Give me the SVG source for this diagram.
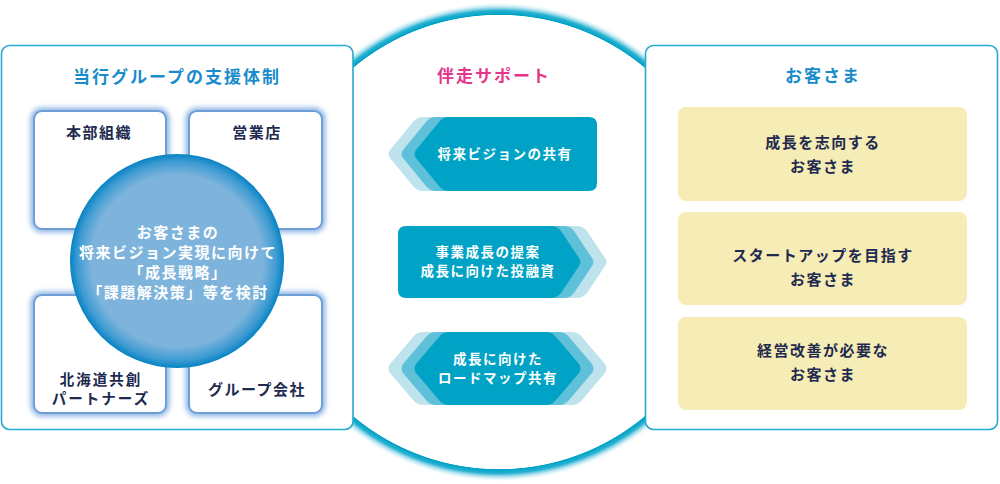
<svg xmlns="http://www.w3.org/2000/svg" width="1000" height="484" viewBox="0 0 1000 484">
<defs>
<radialGradient id="ring" gradientUnits="userSpaceOnUse" cx="499" cy="242" r="240">
<stop offset="0" stop-color="#ffffff"/>
<stop offset="0.945" stop-color="#ffffff"/>
<stop offset="0.948" stop-color="#00a2c6"/>
<stop offset="0.965" stop-color="#2ab2d2"/>
<stop offset="1" stop-color="#ffffff" stop-opacity="0"/>
</radialGradient>
<radialGradient id="ball" cx="0.5" cy="0.5" r="0.5">
<stop offset="0" stop-color="#7eb4dc"/>
<stop offset="0.8" stop-color="#7eb4dc"/>
<stop offset="0.93" stop-color="#3d9bd2"/>
<stop offset="1" stop-color="#0683c4"/>
</radialGradient>
<filter id="blur" x="-20%" y="-20%" width="140%" height="140%">
<feGaussianBlur stdDeviation="2.5"/>
</filter>
<style>
.panel{fill:#ffffff;stroke:#27aacd;stroke-width:1.6}
.glow{fill:none;stroke:#8fb6e4;stroke-width:7;filter:url(#blur)}
.sub{fill:#ffffff;stroke:#6f9fd8;stroke-width:2}
.t{font-family:"Noto Sans CJK JP","Noto Sans",sans-serif;font-weight:bold;text-anchor:middle}
.title{font-size:17px;letter-spacing:2px;fill:#1a8bcb}
.pink{fill:#e5358a}
.lbl{font-size:15px;letter-spacing:1.5px;fill:#1e2a4f}
.sm{font-size:14.5px;letter-spacing:2px}
.wh{font-size:15px;letter-spacing:1.5px;fill:#ffffff}
.aw{font-size:13.5px;letter-spacing:1.5px;fill:#ffffff}
.d{fill:#00a3c5}
.m{fill:#5ec0d9}
.l{fill:#bfe3ec}
.y{fill:#f6ecb5}
</style>
</defs>

<g id="support-ring">
<circle cx="499" cy="242" r="240" fill="url(#ring)"/>
</g>

<g id="group-panel">
<rect class="panel" x="1.5" y="45.5" width="351.5" height="384" rx="8"/>
<text class="t title" x="177" y="83">当行グループの支援体制</text>
</g>

<g id="honbu">
<rect class="glow" x="34" y="111" width="132" height="118" rx="8"/>
<rect class="sub" x="34" y="111" width="132" height="118" rx="8"/>
<text class="t lbl" x="99" y="138">本部組織</text>
</g>
<g id="eigyoten">
<rect class="glow" x="189" y="111" width="133" height="118" rx="8"/>
<rect class="sub" x="189" y="111" width="133" height="118" rx="8"/>
<text class="t lbl" x="257" y="138">営業店</text>
</g>
<g id="partners">
<rect class="glow" x="34" y="295" width="132" height="118" rx="8"/>
<rect class="sub" x="34" y="295" width="132" height="118" rx="8"/>
<text class="t lbl sm" x="101" y="385">北海道共創</text>
<text class="t lbl sm" x="101" y="404">パートナーズ</text>
</g>
<g id="group-companies">
<rect class="glow" x="189" y="295" width="133" height="118" rx="8"/>
<rect class="sub" x="189" y="295" width="133" height="118" rx="8"/>
<text class="t lbl" x="257" y="395">グループ会社</text>
</g>

<g id="center-circle">
<circle cx="177" cy="261" r="107" fill="url(#ball)"/>
<text class="t wh" x="178" y="238">お客さまの</text>
<text class="t wh" x="178" y="258">将来ビジョン実現に向けて</text>
<text class="t wh" x="178" y="278">「成長戦略」</text>
<text class="t wh" x="178" y="298">「課題解決策」等を検討</text>
</g>

<g id="support-title">
<text class="t title pink" x="494" y="82">伴走サポート</text>
</g>

<g id="vision">
<path class="l" transform="translate(-26,0)" d="M 449 117 H 589 Q 597 117 597 125 V 183 Q 597 191 589 191 H 449 Q 443 191 439 186 L 416 158 Q 413 154 416 150 L 439 122 Q 443 117 449 117 Z"/>
<path class="m" transform="translate(-13,0)" d="M 449 117 H 589 Q 597 117 597 125 V 183 Q 597 191 589 191 H 449 Q 443 191 439 186 L 416 158 Q 413 154 416 150 L 439 122 Q 443 117 449 117 Z"/>
<path class="d" d="M 449 117 H 589 Q 597 117 597 125 V 183 Q 597 191 589 191 H 449 Q 443 191 439 186 L 416 158 Q 413 154 416 150 L 439 122 Q 443 117 449 117 Z"/>
<text class="t aw" x="505" y="159">将来ビジョンの共有</text>
</g>

<g id="proposal">
<path class="l" transform="translate(26,0)" d="M 406 226 H 551 Q 557 226 561 231 L 579 258 Q 582 262 579 266 L 561 293 Q 557 298 551 298 H 406 Q 398 298 398 290 V 234 Q 398 226 406 226 Z"/>
<path class="m" transform="translate(13,0)" d="M 406 226 H 551 Q 557 226 561 231 L 579 258 Q 582 262 579 266 L 561 293 Q 557 298 551 298 H 406 Q 398 298 398 290 V 234 Q 398 226 406 226 Z"/>
<path class="d" d="M 406 226 H 551 Q 557 226 561 231 L 579 258 Q 582 262 579 266 L 561 293 Q 557 298 551 298 H 406 Q 398 298 398 290 V 234 Q 398 226 406 226 Z"/>
<text class="t aw" x="488" y="257">事業成長の提案</text>
<text class="t aw" x="488" y="276">成長に向けた投融資</text>
</g>

<g id="roadmap">
<path class="l" d="M 423 332 H 572 Q 578 332 582 337 L 605 364 Q 608 368.5 605 373 L 582 400 Q 578 405 572 405 H 423 Q 417 405 413 400 L 390 373 Q 387 368.5 390 364 L 413 337 Q 417 332 423 332 Z"/>
<path class="m" d="M 436 332 H 559 Q 565 332 569 337 L 592 364 Q 595 368.5 592 373 L 569 400 Q 565 405 559 405 H 436 Q 430 405 426 400 L 403 373 Q 400 368.5 403 364 L 426 337 Q 430 332 436 332 Z"/>
<path class="d" d="M 449 332 H 546 Q 552 332 556 337 L 579 364 Q 582 368.5 579 373 L 556 400 Q 552 405 546 405 H 449 Q 443 405 439 400 L 416 373 Q 413 368.5 416 364 L 439 337 Q 443 332 449 332 Z"/>
<text class="t aw" x="498" y="364">成長に向けた</text>
<text class="t aw" x="498" y="383">ロードマップ共有</text>
</g>

<g id="customer-panel">
<rect class="panel" x="645.5" y="45.5" width="352" height="384" rx="8"/>
<text class="t title" x="823" y="82">お客さま</text>
</g>

<g id="growth">
<rect class="y" x="678" y="107" width="289" height="94" rx="8"/>
<text class="t lbl" x="823" y="148">成長を志向する</text>
<text class="t lbl" x="823" y="172">お客さま</text>
</g>
<g id="startup">
<rect class="y" x="678" y="212" width="289" height="93" rx="8"/>
<text class="t lbl" x="823" y="261">スタートアップを目指す</text>
<text class="t lbl" x="823" y="285">お客さま</text>
</g>
<g id="improvement">
<rect class="y" x="678" y="317" width="289" height="93" rx="8"/>
<text class="t lbl" x="823" y="356">経営改善が必要な</text>
<text class="t lbl" x="823" y="380">お客さま</text>
</g>

<g id="connectors"></g>
</svg>
